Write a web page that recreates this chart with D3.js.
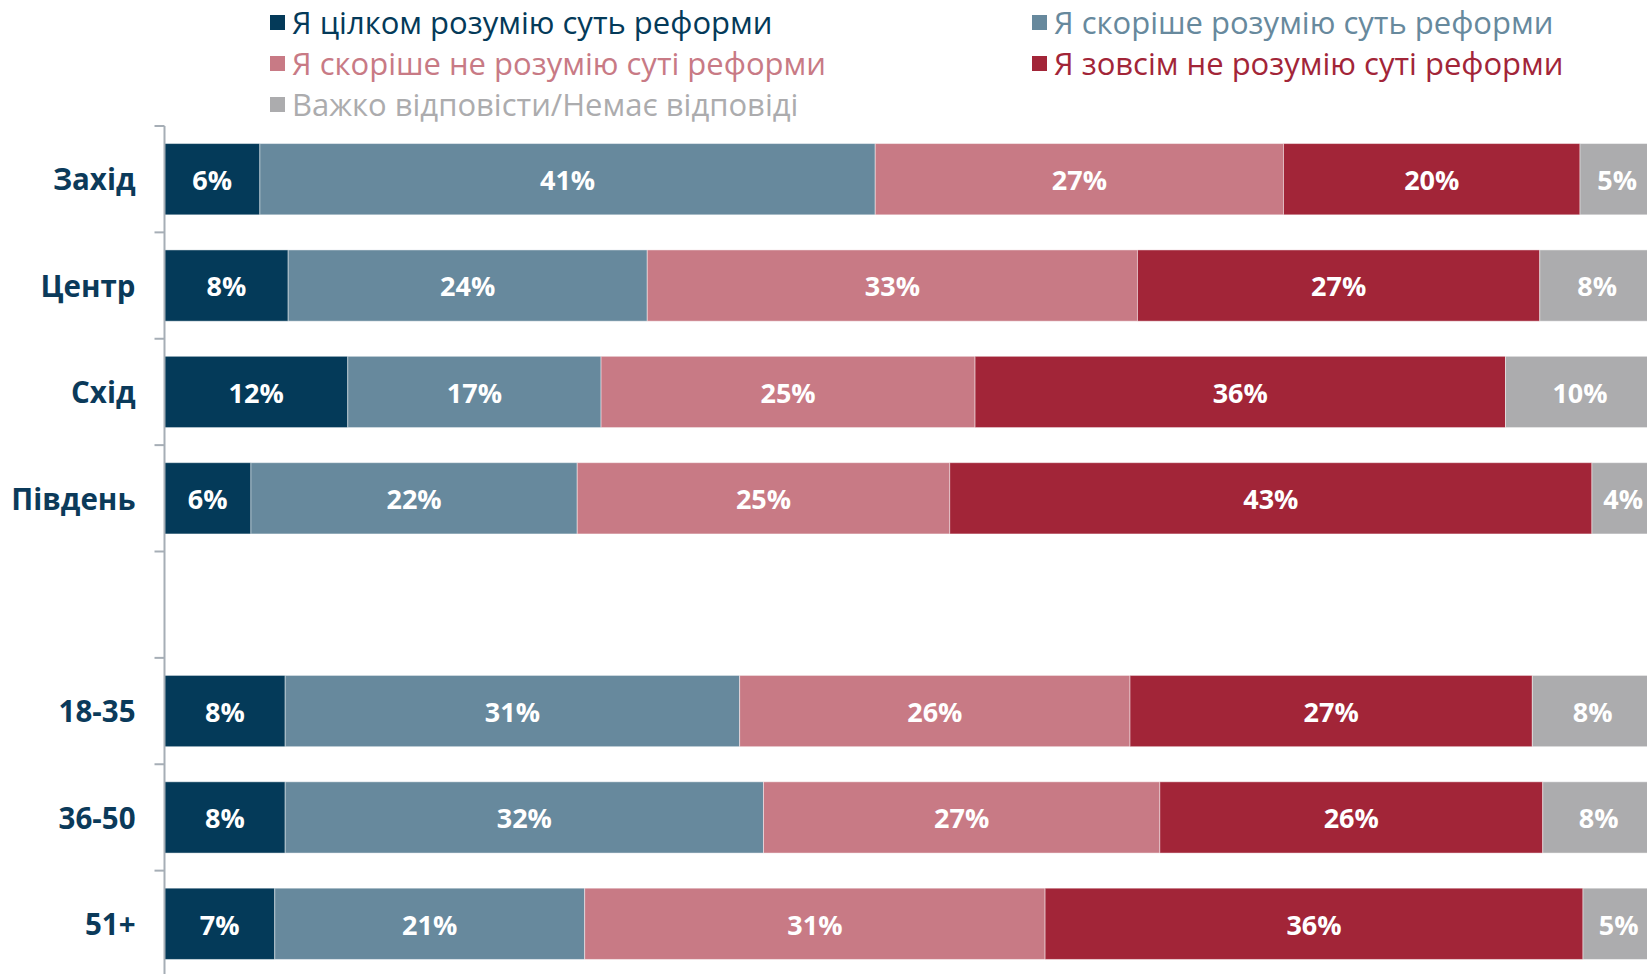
<!DOCTYPE html>
<html>
<head>
<meta charset="utf-8">
<script src="https://cdn.jsdelivr.net/npm/d3@7"></script>
<style>
  body { margin: 0; background: #fff; }
  svg { display: block; }
</style>
</head>
<body>
<div id="chart"></div>
<script>
const width = 1647;
const height = 974;

// rows, top to bottom ("" is the empty gap between regions and ages)
const categories = ["Захід", "Центр", "Схід", "Південь", "", "18-35", "36-50", "51+"];

const seriesNames = [
    "Я цілком розумію суть реформи",
    "Я скоріше розумію суть реформи",
    "Я скоріше не розумію суті реформи",
    "Я зовсім не розумію суті реформи",
    "Важко відповісти/Немає відповіді"
];
const seriesColors = ["#043a59", "#67899d", "#c87a85", "#a22538", "#acacae"];

// shares in %, one value per category (null for the gap row)
const fullyUnderstand   = [6.4, 8.3, 12.3, 5.8, null, 8.1, 8.1, 7.4];
const ratherUnderstand  = [41.3, 24.1, 17.0, 21.9, null, 30.5, 32.1, 20.8];
const ratherNot         = [27.4, 32.9, 25.1, 25.0, null, 26.2, 26.6, 30.9];
const notAtAll          = [19.9, 27.0, 35.6, 43.1, null, 27.0, 25.7, 36.1];
const hardToSay         = [5.0, 7.7, 10.0, 4.2, null, 8.1, 7.5, 4.8];

const seriesValues = [fullyUnderstand, ratherUnderstand, ratherNot, notAtAll, hardToSay];

const axisX = 164.5;
const pxPerPct = 14.9;

var svg = d3.select("#chart")
    .append("svg")
    .attr("width", width)
    .attr("height", height)

var x = d3.scaleLinear()
    .domain([0, 100])
    .range([axisX, axisX + 100 * pxPerPct]);

var y = d3.scaleBand()
    .domain(categories)
    .range([126, 977])
    .paddingInner(0.33)
    .paddingOuter(0.165);

// stacked layout, one row object per category
var rows = categories.map(function(c, i) {
    var r = { cat: c };
    seriesNames.forEach(function(s, j) { r[s] = seriesValues[j][i]; });
    return r;
}).filter(d => d.cat !== "");

var stack = d3.stack().keys(seriesNames);
var layers = stack(rows);

var gBars = svg.append("g").attr("class", "bars");

layers.forEach(function(layer, j) {
    gBars.selectAll("rect.s" + j)
        .data(layer)
        .enter()
        .append("rect")
        .attr("class", "s" + j)
        .attr("x", d => x(d[0]))
        .attr("y", d => y(d.data.cat))
        .attr("width", d => x(d[1]) - x(d[0]))
        .attr("height", y.bandwidth())
        .attr("fill", seriesColors[j])
        .attr("stroke", "#ffffff")
        .attr("stroke-opacity", 0.45)
        .attr("stroke-width", 1)

    gBars.selectAll("text.l" + j)
        .data(layer)
        .enter()
        .append("text")
        .attr("class", "l" + j)
        .attr("x", d => (x(d[0]) + x(d[1])) / 2)
        .attr("y", d => y(d.data.cat) + y.bandwidth() / 2)
        .attr("dy", "0.4em")
        .attr("text-anchor", "middle")
        .style("font-family", "'Open Sans', sans-serif")
        .style("font-weight", "bold")
        .style("font-size", "27px")
        .style("fill", "#ffffff")
        .text(d => Math.round(d[1] - d[0]) + "%")
});

// left axis: line plus ticks between the rows
var gap = y.step() - y.bandwidth();
var tickYs = categories.map(c => y(c) - gap / 2);
tickYs.push(y(categories[categories.length - 1]) + y.bandwidth() + gap / 2);

svg.append("line")
    .attr("x1", axisX).attr("x2", axisX)
    .attr("y1", tickYs[0]).attr("y2", height)
    .attr("stroke", "#a6aeb6")
    .attr("stroke-width", 2)

svg.selectAll("line.tick")
    .data(tickYs)
    .enter()
    .append("line")
    .attr("class", "tick")
    .attr("x1", axisX - 10).attr("x2", axisX)
    .attr("y1", d => d).attr("y2", d => d)
    .attr("stroke", "#a6aeb6")
    .attr("stroke-width", 2)

svg.selectAll("text.cat")
    .data(categories.filter(c => c !== ""))
    .enter()
    .append("text")
    .attr("class", "cat")
    .attr("x", axisX - 29)
    .attr("y", d => y(d) + y.bandwidth() / 2)
    .attr("dy", "0.38em")
    .attr("text-anchor", "end")
    .style("font-family", "'Open Sans', sans-serif")
    .style("font-weight", "bold")
    .style("font-size", "29.5px")
    .style("fill", "#0b3a5a")
    .text(d => d)

// legend: two columns, filled column-wise like the original
var legendPos = [[0, 0], [1, 0], [0, 1], [1, 1], [0, 2]];
var legendX = [270, 1032];
var legend = svg.selectAll("g.legend")
    .data(seriesNames)
    .enter()
    .append("g")
    .attr("class", "legend")
    .attr("transform", (d, i) => "translate(" + legendX[legendPos[i][0]] + "," + (22.5 + 41 * legendPos[i][1]) + ")")

legend.append("rect")
    .attr("x", 0)
    .attr("y", -7.5)
    .attr("width", 15)
    .attr("height", 15)
    .attr("fill", (d, i) => seriesColors[i])

legend.append("text")
    .attr("x", 22)
    .attr("y", 0)
    .attr("dy", "0.38em")
    .style("font-family", "'Open Sans', sans-serif")
    .style("font-size", "31px")
    .style("fill", (d, i) => seriesColors[i])
    .text(d => d)
</script>
</body>
</html>
